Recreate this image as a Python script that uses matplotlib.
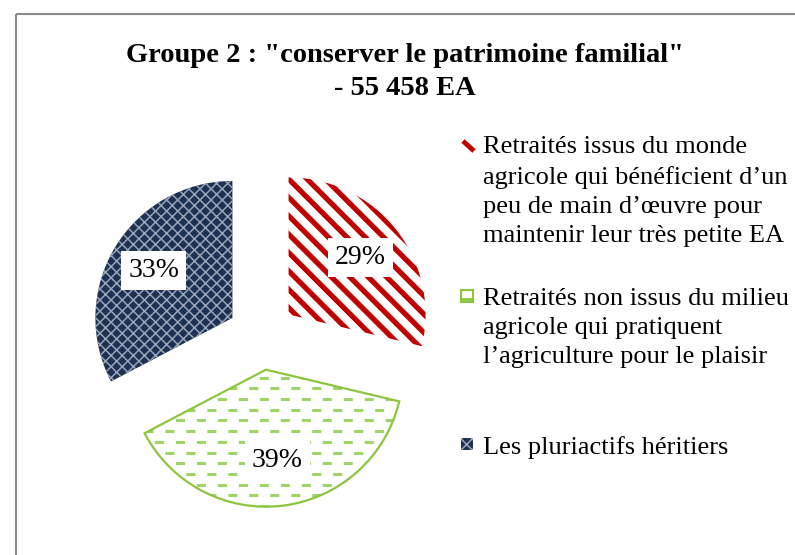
import matplotlib
matplotlib.use('Agg')
import matplotlib.pyplot as plt
from matplotlib.patches import Rectangle, Wedge
import numpy as np

# ---- data ----
categories = [
    "Retraités issus du monde\nagricole qui bénéficient d’un\npeu de main d’œuvre pour\nmaintenir leur très petite EA",
    "Retraités non issus du milieu\nagricole qui pratiquent\nl’agriculture pour le plaisir",
    "Les pluriactifs héritiers",
]
values = [29, 39, 33]
title = 'Groupe 2 : "conserver le patrimoine familial"\n- 55 458 EA'

plt.rcParams['font.family'] = ['Liberation Serif', 'DejaVu Serif']
plt.rcParams['lines.scale_dashes'] = False
plt.rcParams['hatch.linewidth'] = 1.1

W, H = 795, 555
fig = plt.figure(figsize=(W / 100, H / 100), dpi=100)

# pie axes: 1 data unit = R pixels, pie centre at (cx, cy) pixels from top-left
R = 137.0
cx, cy = 261.7, 335.7
ax = fig.add_axes([0, 0, 1, 1])
RED, GREEN, NAVY = '#C00000', '#8CC63F', '#1D3152'
wedges, texts, autotexts = ax.pie(
    values, startangle=90, counterclock=False, explode=[0.25] * 3, radius=1,
    autopct=lambda p: f'{p:.0f}%', pctdistance=0.67,
    colors=['white', 'white', NAVY], wedgeprops=dict(linewidth=0),
    textprops=dict(fontsize=20))
ax.set_aspect('auto')
ax.set_xlim(-cx / R, (W - cx) / R)
ax.set_ylim((cy - H) / R, cy / R)
ax.axis('off')

# red diagonal stripes
wr = wedges[0]
xc, yc = wr.center
per = 13.0 / R * np.sqrt(2)
for c in np.arange(xc + yc - 2.5, xc + yc + 2.5, per):
    ln, = ax.plot([xc - 2, xc + 2], [c - (xc - 2), c - (xc + 2)], color=RED,
                  lw=3.8, solid_capstyle='butt', zorder=2)
    ln.set_clip_path(wr)

# green dashed rows
wg = wedges[1]
xc, yc = wg.center
sp = 10.7 / R
for i, yy in enumerate(np.arange(yc + 0.02, yc - 1.1, -sp)):
    off = 0 if i % 2 == 0 else 7.5
    ln, = ax.plot([xc - 1.2, xc + 1.2], [yy, yy], color='#9FD466', lw=2.2,
                  linestyle=(off, (6.5, 8.6)), zorder=2)
    ln.set_clip_path(wg)
ax.add_patch(Wedge(wg.center, wg.r, wg.theta1, wg.theta2, fill=False,
                   edgecolor=GREEN, lw=1.6, zorder=3))

# navy dotted pattern
wb = wedges[2]
wb.set_hatch('xxx')
wb.set_edgecolor('#98A4B8')
wb.set_linewidth(0)

for t in autotexts:
    t.set_bbox(dict(facecolor='white', edgecolor='none', boxstyle='square,pad=0.25'))
    t.set_zorder(5)
    t.set_color('black')

# overlay in pixel coordinates for title, legend and frame
ov = fig.add_axes([0, 0, 1, 1], facecolor='none')
ov.set_xlim(0, W)
ov.set_ylim(H, 0)
ov.axis('off')
ov.add_patch(Rectangle((16, 14), W, H, fill=False, edgecolor='#8A8A8A', lw=1.5))

ov.text(405, 43, title, ha='center', va='top', fontsize=20.5, fontweight='bold',
        linespacing=1.4)

leg_y = [136, 288, 436]
for k, (lab, y) in enumerate(zip(categories, leg_y)):
    ov.text(483, y, lab, ha='left', va='top', fontsize=19, linespacing=1.42)

# legend markers
ov.plot([463, 474], [141, 151], color=RED, lw=3.5, solid_capstyle='butt')
ov.add_patch(Rectangle((461, 290), 12, 12, facecolor='white', edgecolor=GREEN, lw=1.5))
ov.plot([463, 471], [298.5, 298.5], color=GREEN, lw=2)
ov.add_patch(Rectangle((461, 438), 12, 12, facecolor=NAVY, edgecolor='#98A4B8',
                       hatch='xxx', lw=0))

fig.savefig('out.png', dpi=100)
